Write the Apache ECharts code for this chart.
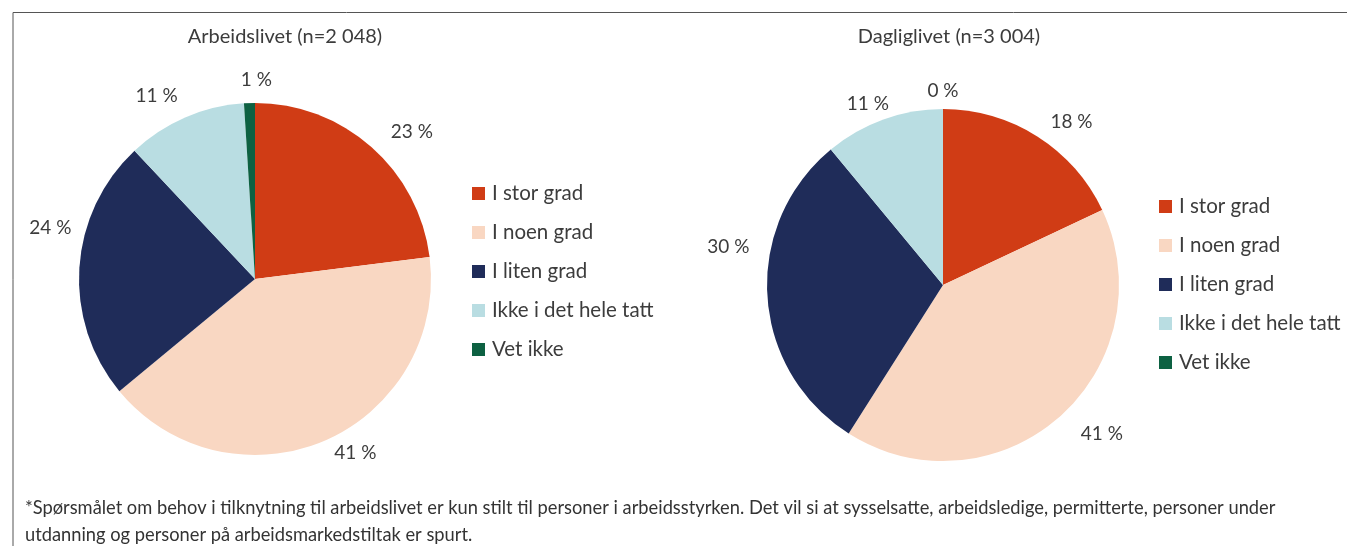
<!DOCTYPE html>
<html>
<head>
<meta charset="utf-8">
<script src="https://cdn.jsdelivr.net/npm/echarts@6/dist/echarts.min.js"></script>
<style>
  html, body { margin: 0; padding: 0; background: #fff; }
  #chart { width: 1347px; height: 546px; }
</style>
</head>
<body>
<div id="chart"></div>
<script>
// categories (same order in both pies, clockwise from 12 o'clock)
const categories = ["I stor grad", "I noen grad", "I liten grad", "Ikke i det hele tatt", "Vet ikke"];
const colors = ["#d03c15", "#f9d7c2", "#1f2c59", "#b9dde2", "#0d6142"];

// percentages
const arbeidslivet = [23, 41, 24, 11, 1];
const dagliglivet = [18, 41, 30, 11, 0];

const titles = ["Arbeidslivet (n=2 048)", "Dagliglivet (n=3 004)"];
const footnote =
  "*Spørsmålet om behov i tilknytning til arbeidslivet er kun stilt til personer i arbeidsstyrken. Det vil si at sysselsatte, arbeidsledige, permitterte, personer under\n" +
  "utdanning og personer på arbeidsmarkedstiltak er spurt.";

// small label nudges, like the hand-placed labels in the original
const nudgeArbeid = [[18, 10], [17, -19], [5, -38], [-15, 10], [8, 11]];
const nudgeDaglig = [[16, 14], [20, -9], [-5, -51], [-4, 16], [0, 16]];

const font = "Lato, 'Open Sans', sans-serif";
const textColor = "#3c3c3c";

function toData(values) {
  return categories.map((name, i) => ({
    name: name,
    value: values[i],
    itemStyle: { color: colors[i] },
  }));
}

function pieSeries(values, center, nudge) {
  return [
    {
      type: "pie",
      center: center,
      radius: 176,
      startAngle: 90,
      clockwise: true,
      silent: true,
      label: { show: false },
      labelLine: { show: false },
      data: toData(values),
    },
    // invisible ring, only used to place the percentage labels round the pie
    {
      type: "pie",
      center: center,
      radius: [192, 222],
      startAngle: 90,
      clockwise: true,
      silent: true,
      minShowLabelAngle: -1,
      itemStyle: { color: "rgba(0,0,0,0)" },
      label: {
        show: true,
        position: "inside",
        color: textColor,
        fontFamily: font,
        fontSize: 19,
        formatter: (p) => p.value + " %",
      },
      labelLine: { show: false },
      data: values.map((v, i) => ({
        name: categories[i],
        value: v,
        label: { offset: nudge[i] },
      })),
    },
  ];
}

function legend(left, top) {
  return {
    data: categories,
    orient: "vertical",
    left: left,
    top: top,
    padding: 0,
    icon: "rect",
    itemWidth: 13,
    itemHeight: 13,
    itemGap: 18,
    selectedMode: false,
    textStyle: { color: textColor, fontFamily: font, fontSize: 20.5, padding: [0, 0, 0, 2] },
  };
}

const myChart = echarts.init(document.getElementById("chart"));

const option = {
  animation: false,
  title: [
    {
      text: titles[0],
      left: 280,
      top: 22,
      textAlign: "center",
      textStyle: { color: textColor, fontFamily: font, fontSize: 20, fontWeight: "normal" },
    },
    {
      text: titles[1],
      left: 944,
      top: 22,
      textAlign: "center",
      textStyle: { color: textColor, fontFamily: font, fontSize: 20, fontWeight: "normal" },
    },
    {
      text: footnote,
      left: 20,
      top: 490,
      textStyle: {
        color: "#333",
        fontFamily: font,
        fontSize: 18.3,
        fontWeight: "normal",
        lineHeight: 27,
      },
    },
  ],
  legend: [legend(472, 183), legend(1159, 196)],
  graphic: [
    {
      type: "polyline",
      shape: { points: [[13, 546], [13, 12.5], [1347, 12.5]] },
      style: { stroke: "#555", lineWidth: 1, fill: null },
      silent: true,
    },
  ],
  series: [
    ...pieSeries(arbeidslivet, [255, 279], nudgeArbeid),
    ...pieSeries(dagliglivet, [943, 285], nudgeDaglig),
  ],
};

option && myChart.setOption(option);
</script>
</body>
</html>
